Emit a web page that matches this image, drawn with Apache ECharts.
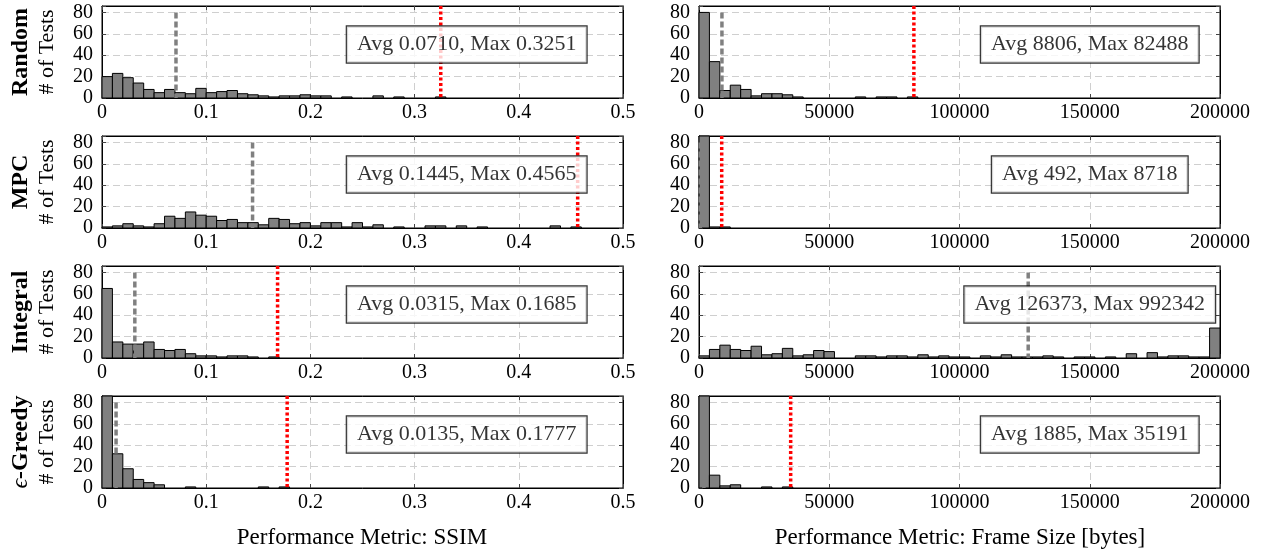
<!DOCTYPE html>
<html>
<head>
<meta charset="utf-8">
<script src="https://cdn.jsdelivr.net/npm/echarts@6/dist/echarts.min.js"></script>
<style>
  html, body { margin: 0; padding: 0; background: #fff; }
  #chart { width: 1269px; height: 552px; }
</style>
</head>
<body>
<div id="chart"></div>
<script>
// row labels (rich text for the italic epsilon)
var rowNames = ['Random', 'MPC', 'Integral', '{e|ϵ}-Greedy'];
var ssimTicks = [0, 0.1, 0.2, 0.3, 0.4, 0.5];
var sizeTicks = [0, 50000, 100000, 150000, 200000];
var countTicks = [0, 20, 40, 60, 80];
var countTop = 86;
var ssimBin = 0.01;
var sizeBin = 4000;

// histogram counts per bin, bins after the last listed are empty
var randomSsim = [20, 23, 19, 14, 8, 5, 8, 5, 4, 9, 5, 6, 7, 4, 3, 2, 1, 2, 2, 3, 2, 2, 0, 1, 0, 0, 2, 0, 1, 0, 0, 0, 1];
var mpcSsim = [1, 2, 4, 2, 1, 4, 11, 9, 15, 12, 11, 7, 8, 5, 5, 3, 9, 8, 4, 5, 2, 5, 5, 1, 5, 1, 3, 0, 1, 0, 0, 2, 2, 0, 2, 0, 1, 0, 0, 0, 0, 0, 0, 2, 0, 1];
var integralSsim = [65, 15, 13, 13, 15, 8, 7, 8, 4, 2, 2, 1, 2, 2, 1, 0, 1];
var greedySsim = [90, 32, 18, 8, 5, 3, 0, 0, 1, 0, 0, 0, 0, 0, 0, 1, 0, 1];

var randomSize = [80, 34, 7, 12, 8, 2, 4, 4, 3, 1, 0, 0, 0, 0, 0, 1, 0, 1, 1, 0, 1];
var mpcSize = [157, 1, 1];
var integralSize = [2, 8, 12, 8, 7, 11, 3, 4, 9, 2, 3, 7, 6, 0, 0, 2, 2, 1, 2, 2, 1, 3, 1, 2, 1, 1, 0, 2, 1, 3, 1, 1, 1, 2, 1, 0, 1, 1, 0, 1, 0, 4, 0, 5, 1, 2, 2, 1, 1, 28];
var greedySize = [140, 12, 2, 3, 0, 0, 1, 0, 1];

var ssimAvg = [0.0710, 0.1445, 0.0315, 0.0135];
var ssimMax = [0.3251, 0.4565, 0.1685, 0.1777];
var sizeAvg = [8806, 492, 126373, 1885];
var sizeMax = [82488, 8718, 992342, 35191];

var ssimCounts = [randomSsim, mpcSsim, integralSsim, greedySsim];
var sizeCounts = [randomSize, mpcSize, integralSize, greedySize];

var FONT = 'Liberation Serif';
var chart = echarts.init(document.getElementById('chart'), null, {renderer: 'canvas'});

var grids = [], xAxes = [], yAxes = [], series = [];

function renderBin(params, api) {
    var p0 = api.coord([api.value(0), api.value(2)]);
    var p1 = api.coord([api.value(1), 0]);
    if (!api.value(2)) {
        return null;
    }
    var rect = echarts.graphic.clipRectByRect({
        x: p0[0], y: p0[1], width: p1[0] - p0[0], height: p1[1] - p0[1]
    }, {
        x: params.coordSys.x, y: params.coordSys.y,
        width: params.coordSys.width, height: params.coordSys.height
    });
    return rect && {
        type: 'rect',
        shape: rect,
        style: {fill: '#808080', stroke: '#000', lineWidth: 1}
    };
}

function addPanel(idx, col, row, counts, bin, ticks, avg, max, digits) {
    var xMin = ticks[0], xMax = ticks[ticks.length - 1];
    grids.push({
        left: col ? 699 : 102, top: 6 + 130 * row, width: 521, height: 92,
        show: true, borderColor: '#000', borderWidth: 1, backgroundColor: 'transparent'
    });
    var tick = {show: true, inside: true, length: 4, lineStyle: {color: '#444', width: 1}};
    var line = {show: true, onZero: false, lineStyle: {color: '#000', width: 1}};
    var labelStyle = {color: '#000', fontFamily: FONT, fontSize: 20};
    xAxes.push({
        gridIndex: idx, type: 'value', min: xMin, max: xMax, interval: ticks[1] - ticks[0],
        axisLine: line, axisTick: tick,
        axisLabel: Object.assign({
            margin: 5,
            formatter: function (v) { return String(+v.toFixed(6)); }
        }, labelStyle),
        splitLine: {show: true, lineStyle: {color: '#cfcfcf', type: [7, 4], width: 1}}
    });
    xAxes.push({
        gridIndex: idx, type: 'value', position: 'top', min: xMin, max: xMax, interval: ticks[1] - ticks[0],
        axisLine: line, axisTick: tick, axisLabel: {show: false}, splitLine: {show: false}
    });
    yAxes.push({
        gridIndex: idx, type: 'value', min: 0, max: countTop, interval: countTicks[1] - countTicks[0],
        axisLine: line, axisTick: tick,
        axisLabel: Object.assign({
            margin: 9,
            formatter: function (v) { return countTicks.indexOf(v) >= 0 ? String(v) : ''; }
        }, labelStyle),
        splitLine: {show: true, lineStyle: {color: '#cfcfcf', type: [7, 4], width: 1}}
    });
    yAxes.push({
        gridIndex: idx, type: 'value', position: 'right', min: 0, max: countTop, interval: countTicks[1] - countTicks[0],
        axisLine: line, axisTick: tick, axisLabel: {show: false}, splitLine: {show: false}
    });

    var ax = {xAxisIndex: 2 * idx, yAxisIndex: 2 * idx};
    series.push(Object.assign({
        type: 'custom',
        renderItem: renderBin,
        encode: {x: [0, 1], y: 2},
        z: 2,
        silent: true,
        data: counts.map(function (c, i) { return [i * bin, (i + 1) * bin, c]; })
    }, ax));

    if (avg <= xMax) {
        series.push(Object.assign({
            type: 'line', symbol: 'none', z: 3, silent: true,
            lineStyle: {color: '#808080', width: 3.5, type: [6, 3]},
            data: [[avg, countTicks[countTicks.length - 1]], [avg, 0]]
        }, ax));
    }
    if (max <= xMax) {
        series.push(Object.assign({
            type: 'line', symbol: 'none', z: 3, silent: true,
            lineStyle: {color: '#ff0000', width: 3.5, type: [3, 2.5]},
            data: [[max, countTop], [max, 0]]
        }, ax));
    }

    var text = 'Avg ' + avg.toFixed(digits) + ', Max ' + max.toFixed(digits);
    series.push(Object.assign({
        type: 'scatter', symbolSize: 0, z: 10, silent: true,
        data: [[col ? 150000 : 0.35, 50]],
        label: {
            show: true, position: 'inside', formatter: text,
            color: '#000', fontFamily: FONT, fontSize: 22, lineHeight: 24,
            backgroundColor: '#fff', borderColor: '#000', borderWidth: 1.2,
            padding: [6, 10, 6, 10]
        }
    }, ax));
}

for (var r = 0; r < 4; r++) {
    addPanel(2 * r, 0, r, ssimCounts[r], ssimBin, ssimTicks, ssimAvg[r], ssimMax[r], 4);
    addPanel(2 * r + 1, 1, r, sizeCounts[r], sizeBin, sizeTicks, sizeAvg[r], sizeMax[r], 0);
}

var graphics = [];
rowNames.forEach(function (name, r) {
    var cy = 6 + 130 * r + 46;
    graphics.push({
        type: 'text', x: 21, y: cy, rotation: Math.PI / 2, silent: true,
        style: {
            text: name, align: 'center', verticalAlign: 'middle', fill: '#000',
            fontFamily: FONT, fontSize: 24, fontWeight: 'bold',
            rich: {e: {fontFamily: FONT, fontSize: 24, fontStyle: 'italic', fontWeight: 'normal'}}
        }
    });
    graphics.push({
        type: 'text', x: 47, y: cy, rotation: Math.PI / 2, silent: true,
        style: {
            text: '# of Tests', align: 'center', verticalAlign: 'middle', fill: '#000',
            fontFamily: FONT, fontSize: 22
        }
    });
});
graphics.push({
    type: 'text', x: 362, y: 538, silent: true,
    style: {text: 'Performance Metric: SSIM', align: 'center', verticalAlign: 'middle', fill: '#000', fontFamily: FONT, fontSize: 23}
});
graphics.push({
    type: 'text', x: 960, y: 538, silent: true,
    style: {text: 'Performance Metric: Frame Size [bytes]', align: 'center', verticalAlign: 'middle', fill: '#000', fontFamily: FONT, fontSize: 23}
});

chart.setOption({
    animation: false,
    backgroundColor: '#fff',
    textStyle: {fontFamily: FONT, color: '#000'},
    grid: grids,
    xAxis: xAxes,
    yAxis: yAxes,
    series: series,
    graphic: graphics
});
</script>
</body>
</html>
